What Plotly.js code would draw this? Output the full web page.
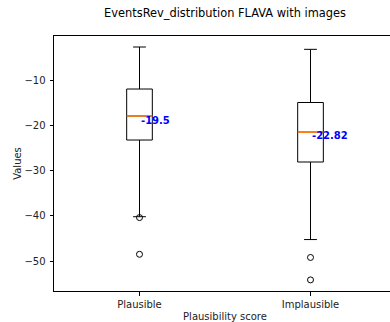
<!DOCTYPE html>
<html><head><meta charset="utf-8">
<script src="https://cdn.plot.ly/plotly-3.0.1.min.js"></script>
<style>html,body{margin:0;padding:0;overflow:hidden;width:390px;height:322px;background:#fff}</style>
</head><body><div id="chart" style="width:400px;height:322px"></div>
<script>
const categories = ["Plausible", "Implausible"];
const positions = [1, 2];
const q1 = [-23.24, -28.09];
const medians = [-17.94, -21.5];
const q3 = [-11.99, -14.96];
const lowerWhisker = [-40.16, -45.2];
const upperWhisker = [-2.72, -3.23];
const means = [-19.5, -22.82];
const meanLabels = ["-19.5", "-22.82"];
const outliers = [[-40.35, -48.45], [-49.15, -54.1]];

const boxW = 0.15;
const traces = [];
traces.push({
  type: 'box', x: positions, q1: q1, median: medians, q3: q3,
  lowerfence: lowerWhisker, upperfence: upperWhisker,
  width: boxW, whiskerwidth: 0.5, boxpoints: false,
  fillcolor: 'rgba(0,0,0,0)', line: {color: '#000', width: 1},
  hoverinfo: 'skip', showlegend: false
});
positions.forEach((p, i) => {
  traces.push({
    type: 'scatter', mode: 'lines', x: [p - boxW/2, p + boxW/2], y: [medians[i], medians[i]],
    line: {color: '#ff7f0e', width: 1.6}, showlegend: false, hoverinfo: 'skip'
  });
  traces.push({
    type: 'scatter', mode: 'markers', x: outliers[i].map(() => p), y: outliers[i],
    marker: {symbol: 'circle-open', size: 6, color: '#000', line: {width: 1, color: '#000'}},
    showlegend: false, hoverinfo: 'skip'
  });
});

const annotations = positions.map((p, i) => ({
  x: p, y: means[i], xref: 'x', yref: 'y', text: '<b>' + meanLabels[i] + '</b>',
  showarrow: false, xanchor: 'left', yanchor: 'bottom', xshift: -1, yshift: -5,
  font: {family: 'DejaVu Sans', size: 10, color: '#0000ff'}
}));

const layout = {
  width: 400, height: 322,
  margin: {l: 54, r: 4, t: 36, b: 31},
  paper_bgcolor: '#fff', plot_bgcolor: '#fff',
  font: {family: 'DejaVu Sans', size: 10, color: '#222'},
  title: {text: 'EventsRev_distribution FLAVA with images', x: 0.5, xanchor: 'center',
          xref: 'paper', y: 0.96, yanchor: 'middle', yref: 'container',
          font: {family: 'DejaVu Sans', size: 11.4, color: '#000'}},
  xaxis: {range: [0.5, 2.5], tickvals: positions, ticktext: categories,
          showline: true, mirror: true, linecolor: '#000', linewidth: 1,
          ticks: 'outside', ticklen: 3.5, tickcolor: '#000', showgrid: false, zeroline: false,
          title: {text: 'Plausibility score', standoff: 4, font: {size: 10, color: '#222'}}},
  yaxis: {range: [-56.55, -0.29], tickvals: [-10, -20, -30, -40, -50],
          showline: true, mirror: true, linecolor: '#000', linewidth: 1,
          ticks: 'outside', ticklen: 3.5, tickcolor: '#000', showgrid: false, zeroline: false,
          ticklabelstandoff: 2,
          title: {text: 'Values', standoff: 0, font: {size: 10, color: '#222'}}},
  annotations: annotations,
  showlegend: false
};
Plotly.newPlot('chart', traces, layout, {displayModeBar: false, staticPlot: true});
</script></body></html>
